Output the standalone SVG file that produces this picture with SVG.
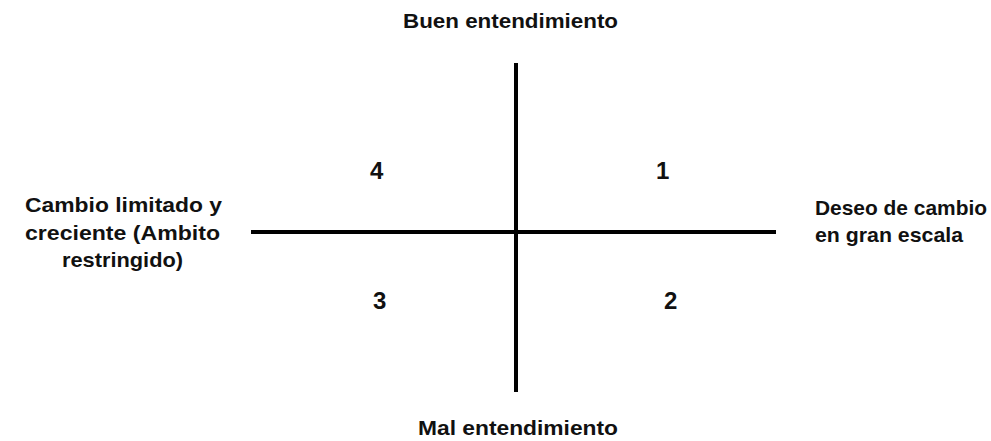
<svg xmlns="http://www.w3.org/2000/svg" width="991" height="441" viewBox="0 0 991 441">
<style>
text{font-family:"Liberation Sans",Arial,sans-serif;font-weight:bold;font-size:21px;fill:#111}
.num{font-size:24px}
.ax{stroke:#000;stroke-width:4;fill:none}
</style>
<rect width="991" height="441" fill="#fff"/>
<g id="connectors">
<line class="ax" x1="516" y1="63" x2="516" y2="392"/>
<line class="ax" x1="251" y1="232" x2="776" y2="232"/>
</g>
<g id="top"><text x="403" y="28" textLength="215" lengthAdjust="spacingAndGlyphs">Buen entendimiento</text></g>
<g id="bottom"><text x="418" y="435" textLength="200" lengthAdjust="spacingAndGlyphs">Mal entendimiento</text></g>
<g id="left">
<text x="25" y="212" textLength="197" lengthAdjust="spacingAndGlyphs">Cambio limitado y</text>
<text x="25" y="240" textLength="195" lengthAdjust="spacingAndGlyphs">creciente (Ambito</text>
<text x="62" y="267" textLength="121" lengthAdjust="spacingAndGlyphs">restringido)</text>
</g>
<g id="right">
<text x="815" y="215" textLength="172" lengthAdjust="spacingAndGlyphs">Deseo de cambio</text>
<text x="815" y="242" textLength="148" lengthAdjust="spacingAndGlyphs">en gran escala</text>
</g>
<g id="q4"><text class="num" x="370" y="179">4</text></g>
<g id="q1"><text class="num" x="656" y="179">1</text></g>
<g id="q3"><text class="num" x="373" y="309">3</text></g>
<g id="q2"><text class="num" x="664" y="309">2</text></g>
</svg>
